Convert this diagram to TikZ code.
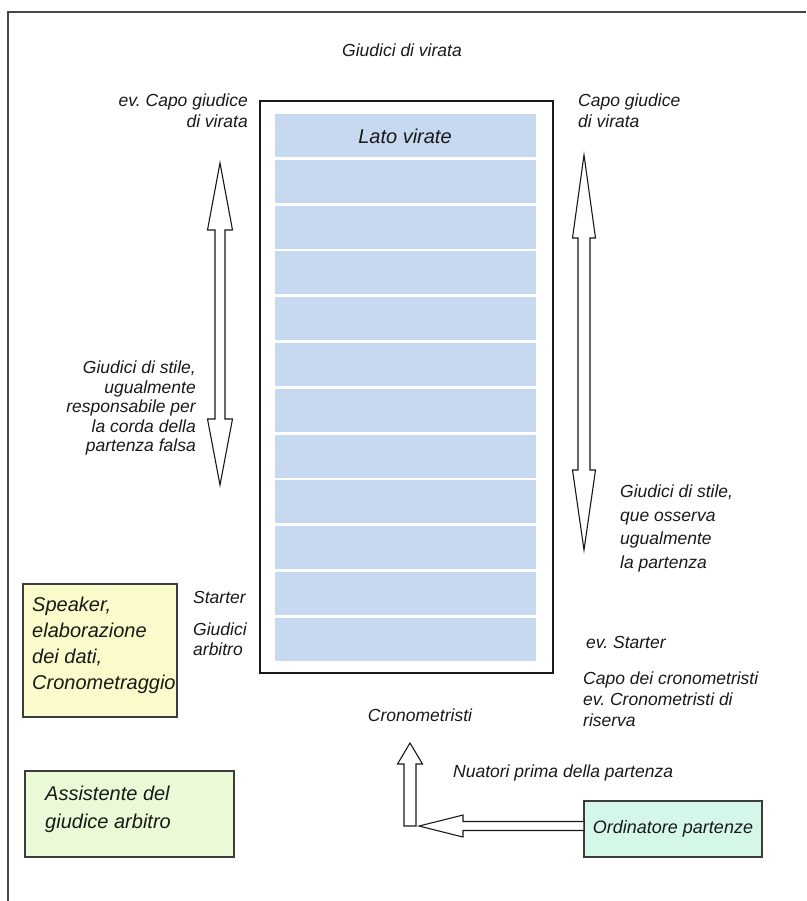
\documentclass[tikz,border=0pt]{standalone}
\usepackage{fontspec}
\setmainfont{Liberation Sans}
\definecolor{lane}{RGB}{198,217,240}
\definecolor{yelbox}{RGB}{250,250,202}
\definecolor{grnbox}{RGB}{234,250,214}
\definecolor{mintbox}{RGB}{213,247,232}
\definecolor{ink}{RGB}{25,25,25}
\begin{document}
\frenchspacing
\begin{tikzpicture}[x=1pt,y=-1pt,
  lbl/.style={font=\itshape\fontsize{17.5}{21}\selectfont, text=ink, inner sep=0pt},
  big/.style={font=\itshape\fontsize{20}{26}\selectfont, text=ink, inner sep=0pt},
  lanebox/.style={fill=lane, draw=none},
  infobox/.style={draw=ink!85, line width=1.2pt},
  blockarrow/.style={draw=ink, line width=1.1pt, fill=white, line join=miter}
]
\path[use as bounding box] (0,0) rectangle (806,901);
% frame
\draw[ink!80, line width=1.4pt] (8,901) -- (8,12) -- (806,12);
% pool
\draw[ink, line width=1.4pt, fill=white] (260,101) rectangle (553,673);
\foreach \i in {0,...,11} {
  \fill[lanebox] (275,{114+\i*45.8}) rectangle (536,{157+\i*45.8});
}
\node[big] (lato) at (405,136) {Lato virate};
% labels
\node[lbl] (gv) at (402,50) {Giudici di virata};
\node[lbl, anchor=north east, align=right] (evcapo) at (248,94) {ev. Capo giudice\\di virata};
\node[lbl, anchor=north west, align=left] (capo) at (578,94) {Capo giudice\\di virata};
\node[lbl, anchor=north east, align=right, font=\itshape\fontsize{17.5}{19.5}\selectfont] (stileL) at (196,361) {Giudici di stile,\\ugualmente\\responsabile per\\la corda della\\partenza falsa};
\node[lbl, anchor=north west, align=left, font=\itshape\fontsize{17.5}{23.5}\selectfont] (stileR) at (620,485) {Giudici di stile,\\que osserva\\ugualmente\\la partenza};
\node[lbl, anchor=north west] (starter) at (193,591) {Starter};
\node[lbl, anchor=north west, align=left, font=\itshape\fontsize{17.5}{20}\selectfont] (arb) at (193,623) {Giudici\\arbitro};
\node[lbl, anchor=north west] (evstarter) at (586,636) {ev. Starter};
\node[lbl, anchor=north west, align=left, font=\itshape\fontsize{17.5}{21}\selectfont] (crcapo) at (583,672) {Capo dei cronometristi\\ev. Cronometristi di\\riserva};
\node[lbl] (crono) at (420,715) {Cronometristi};
\node[lbl, anchor=north west] (nuat) at (453,765) {Nuatori prima della partenza};
% boxes
\draw[infobox, fill=yelbox] (23,584) rectangle (177,717);
\node[big, anchor=north west, align=left] (speaker) at (32,597) {Speaker,\\elaborazione\\dei dati,\\Cronometraggio};
\draw[infobox, fill=grnbox] (25,771) rectangle (234,857);
\node[big, anchor=north west, align=left, font=\itshape\fontsize{20}{28}\selectfont] (assist) at (45,786) {Assistente del\\giudice arbitro};
\draw[infobox, fill=mintbox] (584,801) rectangle (762,857);
\node[lbl, font=\itshape\fontsize{18}{22}\selectfont] (ordin) at (673,829) {Ordinatore partenze};
% double arrows
\draw[blockarrow] (220,163) -- (232.5,230) -- (225,230) -- (225,419) -- (232.5,419) -- (220,485)
  -- (207.5,419) -- (215,419) -- (215,230) -- (207.5,230) -- cycle;
\draw[blockarrow] (584,155) -- (595.5,238) -- (590,238) -- (590,470) -- (595.5,470) -- (584,550)
  -- (572.5,470) -- (578,470) -- (578,238) -- (572.5,238) -- cycle;
% bottom arrows
\draw[blockarrow] (404,826) -- (404,764) -- (397.5,764) -- (410,743) -- (422.5,764) -- (416,764) -- (416,826) -- cycle;
\draw[blockarrow] (419,826) -- (463,815) -- (463,821.5) -- (584,821.5) -- (584,830.5) -- (463,830.5) -- (463,837) -- cycle;
\end{tikzpicture}
\end{document}
